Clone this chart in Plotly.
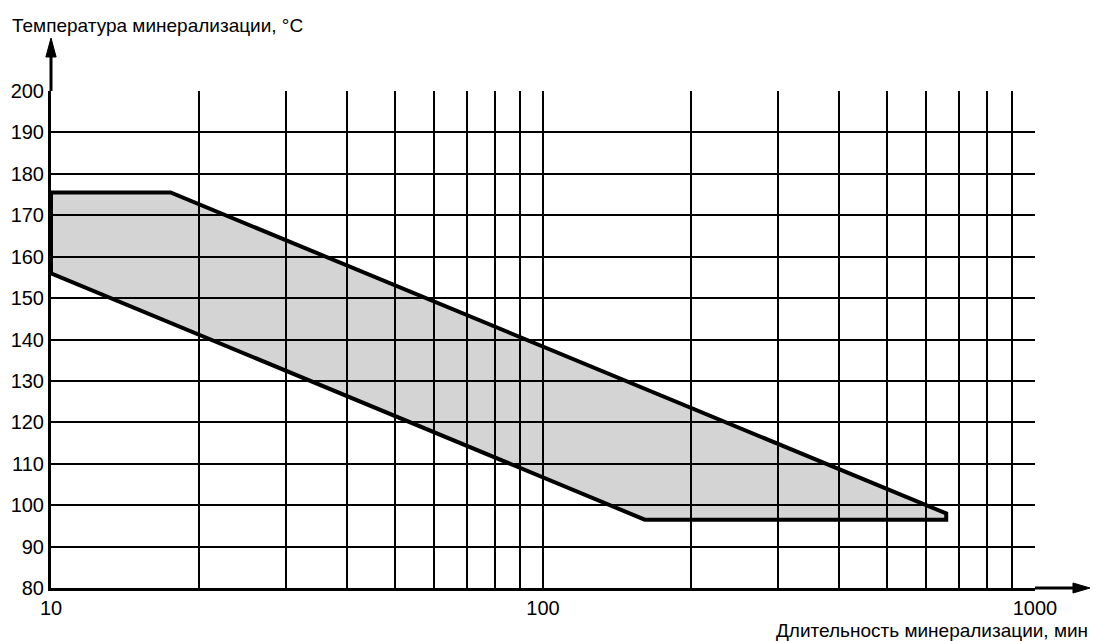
import plotly.graph_objects as go

# Band polygon (duration in min, temperature in °C)
band_x = [10, 17.5, 660, 660, 161, 10, 10]
band_y = [175.5, 175.5, 98, 96.5, 96.5, 156, 175.5]

x_grid = [10, 20, 30, 40, 50, 60, 70, 80, 90,
          100, 200, 300, 400, 500, 600, 700, 800, 900, 1000]
x_labels = {10: "10", 100: "100", 1000: "1000"}
y_ticks = list(range(80, 201, 10))

y_title = "Температура минерализации, °C"
x_title = "Длительность минерализации, мин"

FONT = "Liberation Sans, Arial, sans-serif"

fig = go.Figure()

# filled band as a shape below gridlines
path = "M " + " L ".join(f"{x},{y}" for x, y in zip(band_x, band_y)) + " Z"
fig.add_shape(type="path", path=path, xref="x", yref="y",
              fillcolor="#d4d4d4", line=dict(width=0), layer="below")

fig.add_trace(go.Scatter(x=band_x, y=band_y, mode="lines",
                         line=dict(color="black", width=4),
                         hoverinfo="skip", showlegend=False))

fig.update_layout(
    width=1096, height=641,
    margin=dict(l=51, r=61, t=91, b=53, autoexpand=False),
    paper_bgcolor="white", plot_bgcolor="white",
    font=dict(family=FONT, size=20, color="black"),
    xaxis=dict(type="log", range=[1, 3], automargin=False,
               tickvals=x_grid,
               ticktext=[x_labels.get(v, "") for v in x_grid],
               tickfont=dict(size=20),
               showgrid=True, gridcolor="black", gridwidth=2,
               showline=True, linecolor="black", linewidth=3,
               ticks="", zeroline=False, tickangle=0),
    yaxis=dict(range=[80, 200], tickvals=y_ticks, automargin=False,
               tickfont=dict(size=20),
               showgrid=True, gridcolor="black", gridwidth=2,
               showline=True, linecolor="black", linewidth=3,
               ticks="", zeroline=False),
)

# axis arrows
fig.add_shape(type="line", xref="paper", yref="paper", x0=0, y0=1, x1=0, y1=1.07,
              line=dict(color="black", width=3))
fig.add_shape(type="path", xref="paper", yref="paper",
              path="M -0.0052,1.0684 L 0.0052,1.0684 L 0,1.1066 Z",
              fillcolor="black", line=dict(color="black", width=1))
fig.add_shape(type="line", xref="paper", yref="paper", x0=1, y0=0, x1=1.04, y1=0,
              line=dict(color="black", width=3))
fig.add_shape(type="path", xref="paper", yref="paper",
              path="M 1.0386,-0.0101 L 1.0386,0.0101 L 1.0559,0 Z",
              fillcolor="black", line=dict(color="black", width=1))

fig.add_annotation(text=y_title, xref="paper", yref="paper",
                   x=(10 - 51) / 984, y=(588 - 25) / 497,
                   xanchor="left", yanchor="middle", showarrow=False,
                   font=dict(size=19))
fig.add_annotation(text=x_title, xref="paper", yref="paper",
                   x=(1090 - 51) / 984, y=(588 - 630) / 497,
                   xanchor="right", yanchor="middle", showarrow=False,
                   font=dict(size=19))

fig.write_html("out.html",
               config={"displayModeBar": False},
               post_script="document.body.style.margin='0';document.body.style.overflow='hidden';")
